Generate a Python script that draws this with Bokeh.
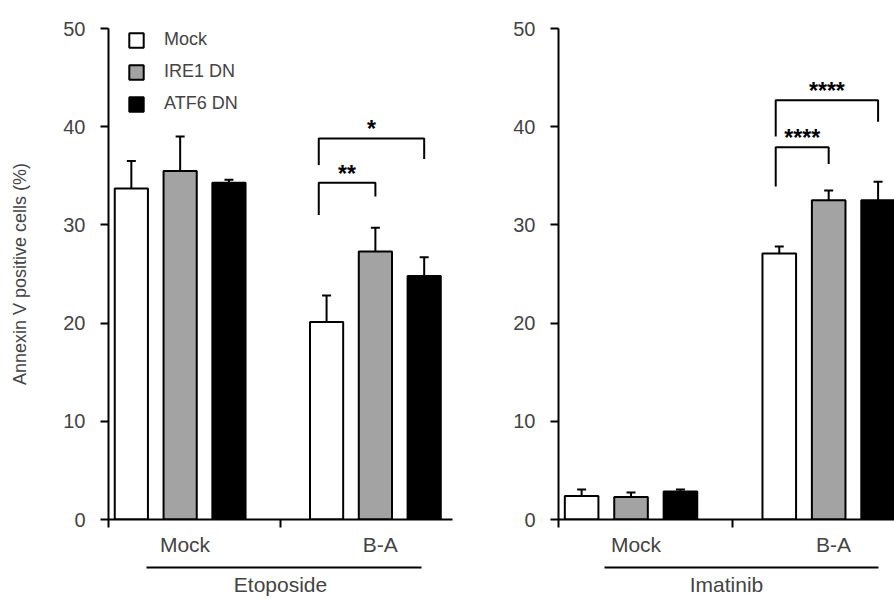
from bokeh.plotting import figure
from bokeh.models import (ColumnDataSource, Range1d, FixedTicker, LinearAxis,
                          Whisker, TeeHead, Legend, LegendItem)
from bokeh.layouts import row
from bokeh.embed import file_html
from bokeh.resources import INLINE
from bokeh.core.properties import value

# ---------------- data ----------------
groups = ["Mock", "B-A"]
series = ["Mock", "IRE1 DN", "ATF6 DN"]
colors = ["white", "#a3a3a3", "black"]
y_ticks = [0, 10, 20, 30, 40, 50]

# Etoposide panel (mean, upper SD)
eto_mock = [33.7, 20.1]
eto_ire1 = [35.5, 27.3]
eto_atf6 = [34.3, 24.8]
eto_mock_err = [2.8, 2.7]
eto_ire1_err = [3.5, 2.4]
eto_atf6_err = [0.3, 1.9]

# Imatinib panel
ima_mock = [2.4, 27.1]
ima_ire1 = [2.3, 32.5]
ima_atf6 = [2.85, 32.5]
ima_mock_err = [0.65, 0.7]
ima_ire1_err = [0.45, 1.0]
ima_atf6_err = [0.2, 1.9]

# significance brackets (in the B-A group): from series, to series, heights, label
eto_br_from = [0, 0]
eto_br_to = [2, 1]
eto_br_top = [38.8, 34.3]
eto_br_left_end = [36.1, 31.0]
eto_br_right_end = [36.7, 32.9]
eto_br_label = ["*", "**"]

ima_br_from = [0, 0]
ima_br_to = [2, 1]
ima_br_top = [42.7, 37.9]
ima_br_left_end = [39.0, 33.9]
ima_br_right_end = [40.5, 36.2]
ima_br_label = ["****", "****"]

# ---------------- layout constants ----------------
FONT = "Liberation Sans"
OFFSETS = [-0.25, 0.0, 0.25]
BAR_W = 0.17
X_START = -0.367
MID_TICK = 0.514
LABEL_SHIFT = 0.025


def make_panel(means, errs, br_from, br_to, br_top, br_le, br_re, br_lab,
               drug, x_end, underline, leg_inset, width, left_border,
               top_border, bottom_border, right_border, with_ylabel):
    p = figure(width=width, height=599, x_range=Range1d(X_START, x_end),
               y_range=Range1d(0, 50), toolbar_location=None,
               output_backend="svg", min_border_left=left_border,
               min_border_right=right_border, min_border_top=top_border,
               min_border_bottom=bottom_border)
    p.outline_line_color = None
    p.xgrid.visible = False
    p.ygrid.visible = False

    renderers = []
    for i, name in enumerate(series):
        xs = [g + OFFSETS[i] for g in range(len(groups))]
        tops = means[i]
        ups = [m + e for m, e in zip(means[i], errs[i])]
        src = ColumnDataSource(dict(x=xs, top=tops, upper=ups))
        w = Whisker(source=src, base="x", lower="top", upper="upper",
                    dimension="height", line_width=2, line_color="black",
                    upper_head=TeeHead(size=9, line_width=2, line_color="black"),
                    lower_head=None)
        p.add_layout(w)
        r = p.vbar(x="x", top="top", bottom=0, width=BAR_W, source=src,
                   fill_color=colors[i], line_color="black", line_width=2)
        renderers.append(r)

    # brackets
    bx, by, lx, ly = [], [], [], []
    for a, b, t, le, re_ in zip(br_from, br_to, br_top, br_le, br_re):
        xa = 1 + OFFSETS[a] - leg_inset
        xb = 1 + OFFSETS[b]
        bx.append([xa, xa, xb, xb])
        by.append([le, t, t, re_])
        lx.append((xa + xb) / 2)
        ly.append(t)
    p.multi_line(xs=bx, ys=by, line_color="black", line_width=2)
    p.text(x=lx, y=ly, text=br_lab, text_align="center",
           text_baseline="alphabetic", y_offset=-9, text_font=value(FONT),
           text_font_size="23px", text_font_style="bold", text_color="black")

    # y axis
    ya = p.yaxis[0]
    ya.ticker = FixedTicker(ticks=y_ticks)
    ya.axis_line_width = 2
    ya.major_tick_line_width = 2
    ya.major_tick_out = 8
    ya.major_tick_in = 0
    ya.minor_tick_line_color = None
    ya.major_label_text_font = FONT
    ya.major_label_text_font_size = "20px"
    ya.major_label_standoff = 15
    if with_ylabel:
        ya.axis_label = "Annexin V positive cells (%)"
        ya.axis_label_text_font = FONT
        ya.axis_label_text_font_size = "18px"
        ya.axis_label_text_font_style = "normal"
        ya.axis_label_standoff = 30

    # x axis: line + boundary ticks + group labels
    label_pos = [g + LABEL_SHIFT for g in range(len(groups))]
    xa_ = p.xaxis[0]
    xa_.ticker = FixedTicker(ticks=label_pos, minor_ticks=[X_START, MID_TICK])
    xa_.major_label_overrides = {pos: g for pos, g in zip(label_pos, groups)}
    xa_.axis_line_width = 2
    xa_.major_tick_line_color = None
    xa_.major_tick_out = 0
    xa_.major_tick_in = 0
    xa_.minor_tick_out = 8
    xa_.minor_tick_in = 0
    xa_.minor_tick_line_width = 2
    xa_.major_label_text_font = FONT
    xa_.major_label_text_font_size = "21px"
    xa_.major_label_standoff = 5

    # spacer between group labels and the treatment underline
    # (its only tick is white on the white background, no labels drawn)
    sp = LinearAxis(ticker=FixedTicker(ticks=[MID_TICK]))
    sp.axis_line_color = None
    sp.major_tick_line_color = "white"
    sp.minor_tick_line_color = None
    sp.major_tick_out = 9
    sp.major_tick_in = 0
    sp.minor_tick_out = 0
    sp.major_label_text_font_size = "0px"
    sp.major_label_text_color = None
    sp.major_label_standoff = 0
    p.add_layout(sp, "below")

    # underline with treatment name
    ax2 = LinearAxis(bounds=(underline[0], underline[1]),
                     ticker=FixedTicker(ticks=[]))
    ax2.axis_line_width = 2
    ax2.major_tick_line_color = None
    ax2.minor_tick_line_color = None
    ax2.major_tick_out = 0
    ax2.minor_tick_out = 0
    ax2.major_label_text_font_size = "0px"
    ax2.major_label_text_color = None
    ax2.axis_label = drug
    ax2.axis_label_text_font = FONT
    ax2.axis_label_text_font_size = "21px"
    ax2.axis_label_text_font_style = "normal"
    ax2.axis_label_standoff = 5
    p.add_layout(ax2, "below")
    return p, renderers


left, lrs = make_panel([eto_mock, eto_ire1, eto_atf6],
                       [eto_mock_err, eto_ire1_err, eto_atf6_err],
                       eto_br_from, eto_br_to, eto_br_top, eto_br_left_end,
                       eto_br_right_end, eto_br_label, "Etoposide",
                       1.395, (-0.174, 1.236), 0.04, 458, 108, 26, 80, 6, True)

legend = Legend(items=[LegendItem(label=s, renderers=[r]) for s, r in zip(series, lrs)],
                location=(19, 405), orientation="vertical",
                glyph_width=18, glyph_height=18, label_standoff=19,
                label_text_font=FONT, label_text_font_size="18px",
                spacing=11, padding=0, margin=0,
                border_line_color=None, background_fill_alpha=0)
left.add_layout(legend)

right, _ = make_panel([ima_mock, ima_ire1, ima_atf6],
                      [ima_mock_err, ima_ire1_err, ima_atf6_err],
                      ima_br_from, ima_br_to, ima_br_top, ima_br_left_end,
                      ima_br_right_end, ima_br_label, "Imatinib",
                      1.333, (-0.136, 1.253), 0.018, 436, 100, 28, 79, 0, False)

layout = row(left, right)
open("out.html", "w").write(file_html(layout, INLINE))
